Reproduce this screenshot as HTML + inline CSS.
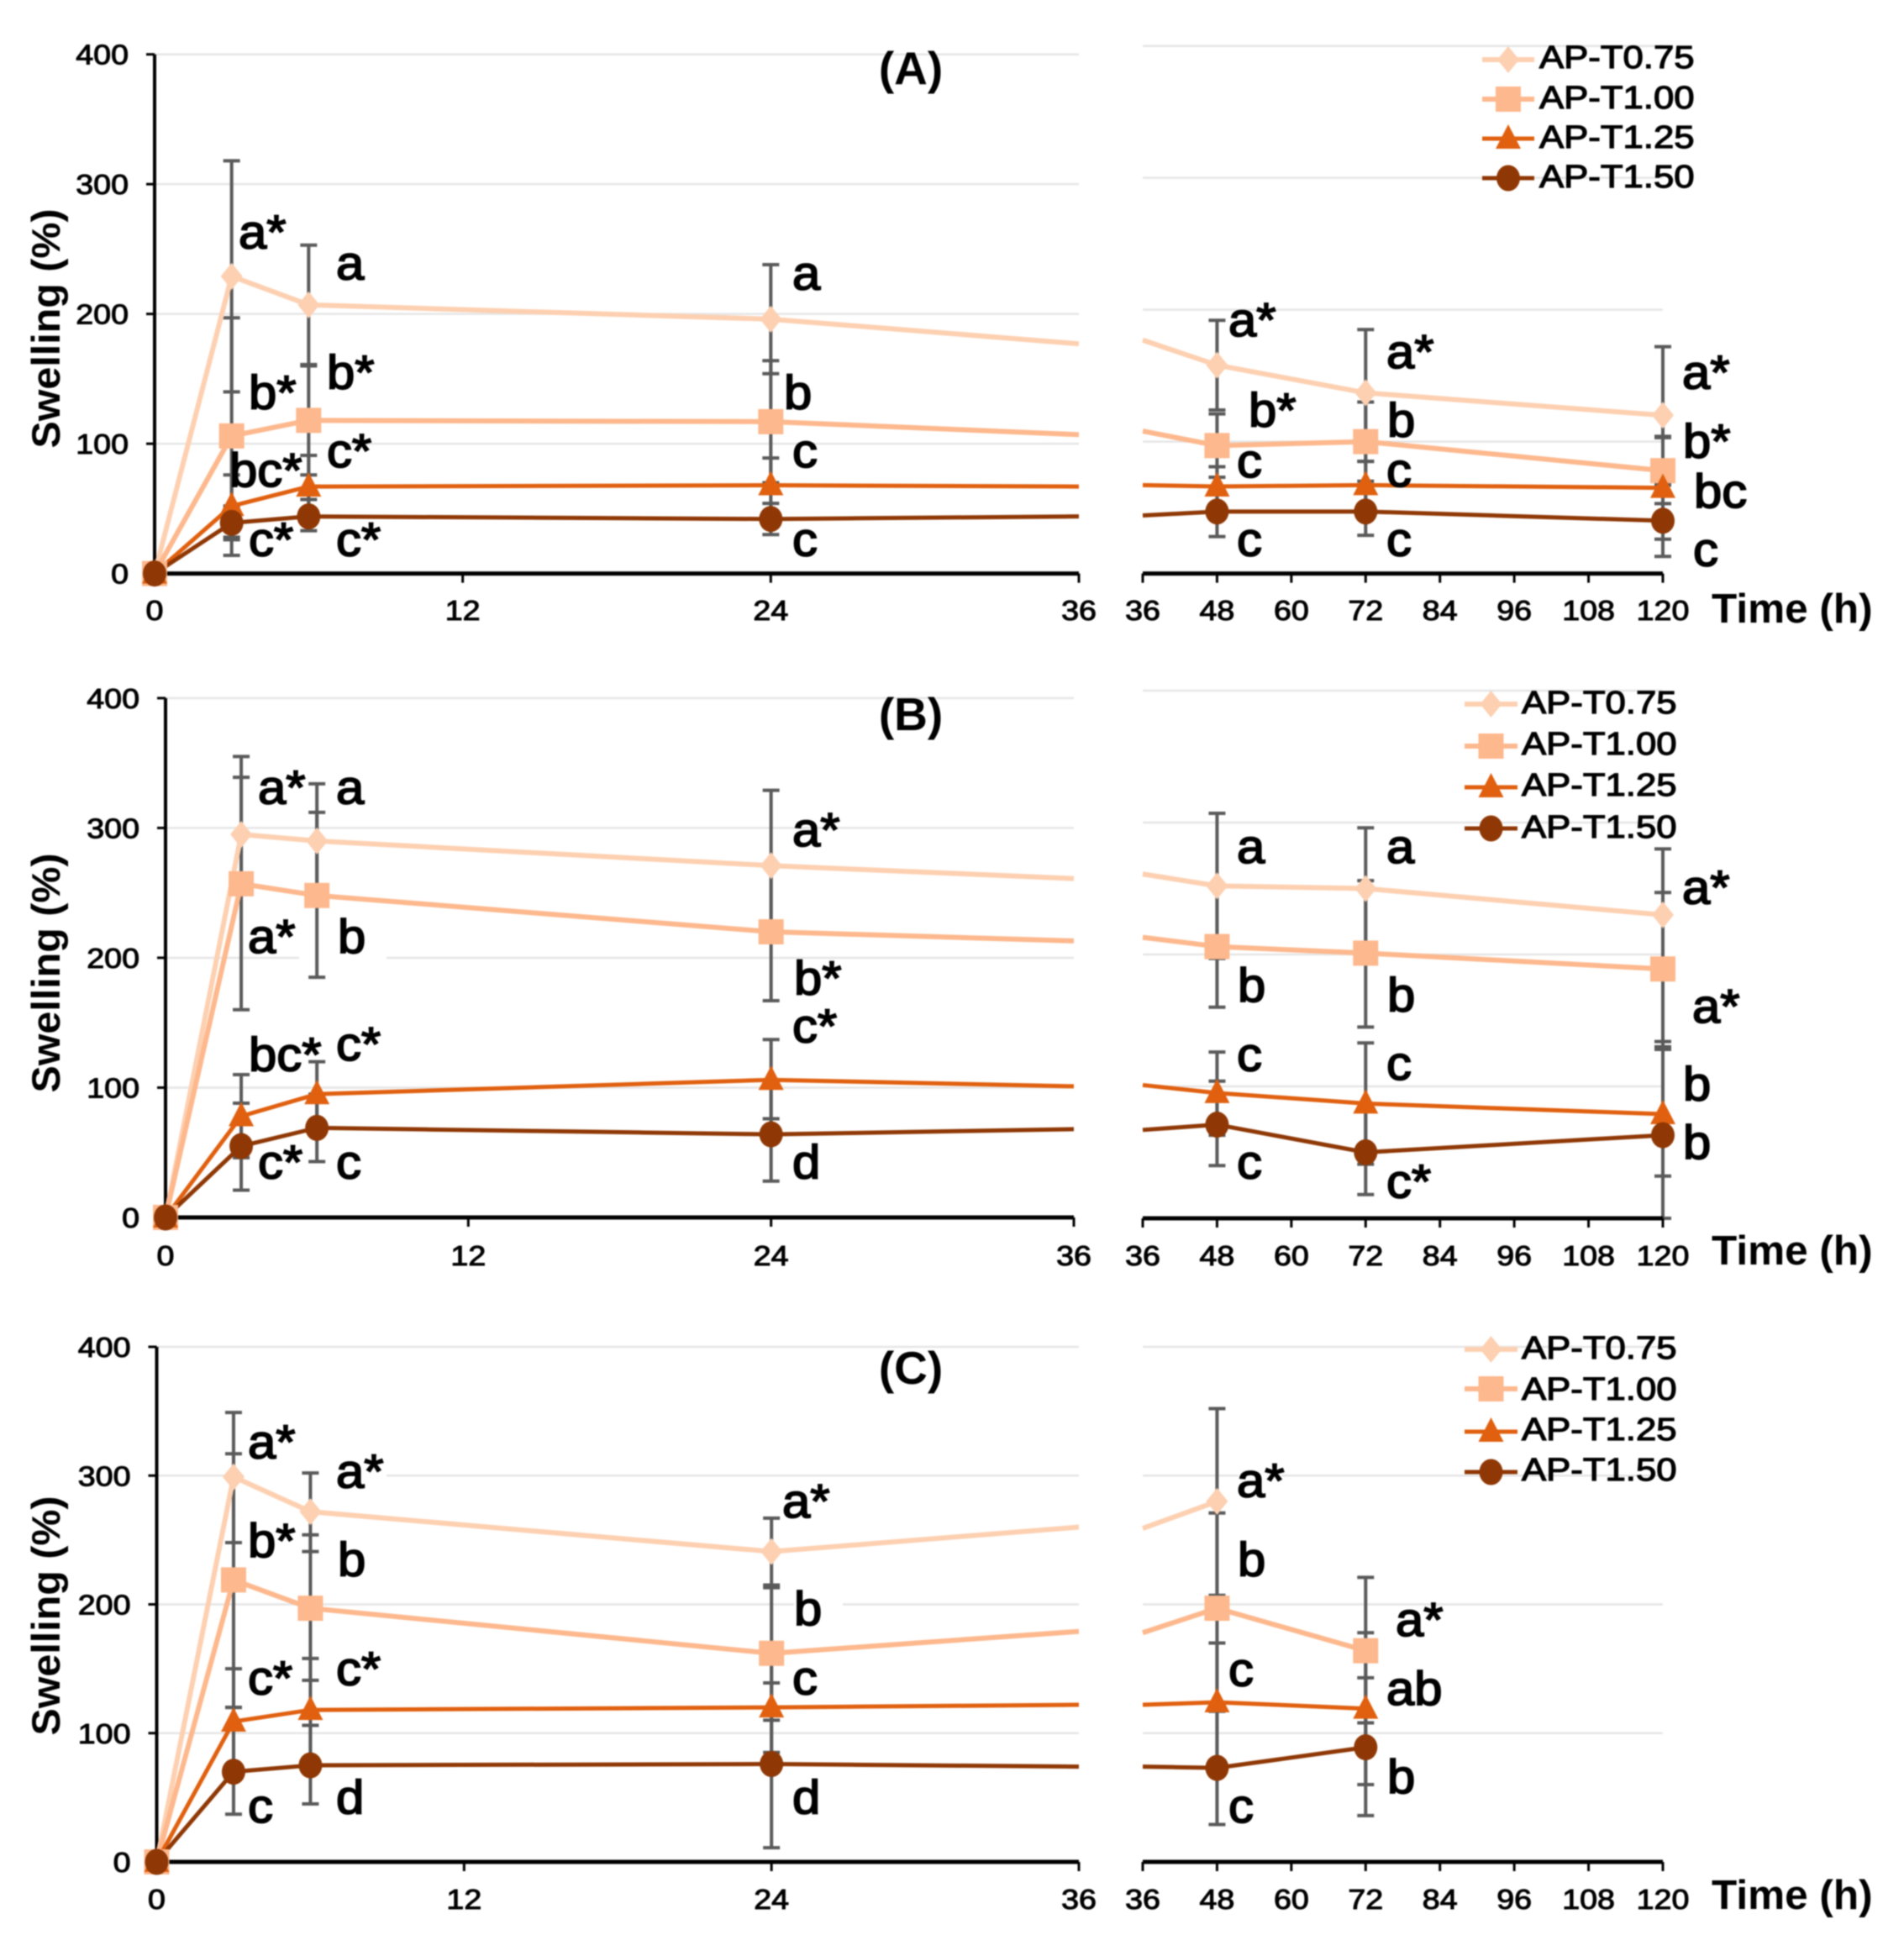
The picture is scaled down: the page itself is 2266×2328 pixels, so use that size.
<!DOCTYPE html>
<html lang="en">
<head>
<meta charset="utf-8">
<title>Swelling over time</title>
<style>
html,body{margin:0;padding:0;background:#fff;}
#figure{display:block;width:2266px;height:2328px;filter:blur(0.8px);font-family:"Liberation Sans",Arial,sans-serif;}
</style>
</head>
<body>
<svg id="figure" xmlns="http://www.w3.org/2000/svg" width="2266" height="2328" viewBox="0 0 2266 2328"></svg>
<script>
const leftHours=[0,3,6,24,36];
const rightHours=[36,48,72,120];
const yTickValues=[0,100,200,300,400];
const leftTickHours=[0,12,24,36];
const rightTickHours=[36,48,60,72,84,96,108,120];
const seriesNames=['AP-T0.75','AP-T1.00','AP-T1.25','AP-T1.50'];

const aLeft075=[0,229,207,196,177];
const aLeft100=[0,106,118,117,107];
const aLeft125=[0,52,67,68,67];
const aLeft150=[0,39,44,42,44];
const aLeftHi075=[null,318,253,238,null];
const aLeftLo075=[null,140,161,154,null];
const aLeftHi100=[null,197,160,164,null];
const aLeftLo100=[null,14,76,70,null];
const aLeftHi125=[null,76,91,89,null];
const aLeftLo125=[null,28,43,47,null];
const aLeftHi150=[null,52,57,54,null];
const aLeftLo150=[null,26,33,30,null];
const aRight075=[177,158,137,120];
const aRight100=[108,97,100,78];
const aRight125=[67,66,67,65];
const aRight150=[44,47,47,40];
const aRightHi075=[null,192,185,172];
const aRightLo075=[null,124,85,68];
const aRightHi100=[null,121,130,103];
const aRightLo100=[null,73,70,53];
const aRightHi125=[null,81,85,104];
const aRightLo125=[null,51,50,26];
const aRightHi150=[null,66,65,67];
const aRightLo150=[null,28,29,13];

const bLeft075=[0,295,290,271,261];
const bLeft100=[0,257,248,220,213];
const bLeft125=[0,78,95,106,101];
const bLeft150=[0,55,69,64,68];
const bLeftHi075=[null,339,334,329,null];
const bLeftLo075=[null,251,246,213,null];
const bLeftHi100=[null,355,312,272,null];
const bLeftLo100=[null,160,185,167,null];
const bLeftHi125=[null,110,120,137,null];
const bLeftLo125=[null,46,70,76,null];
const bLeftHi150=[null,88,95,100,null];
const bLeftLo150=[null,21,43,28,null];
const bRight075=[261,252,250,230];
const bRight100=[213,206,201,189];
const bRight125=[101,95,87,79];
const bRight150=[67,71,50,63];
const bRightHi075=[null,307,296,280];
const bRightLo075=[null,197,204,181];
const bRightHi100=[null,251,256,247];
const bRightLo100=[null,160,145,130];
const bRightHi125=[null,126,133,128];
const bRightLo125=[null,63,41,32];
const bRightHi150=[null,104,84,134];
const bRightLo150=[null,40,18,0];

const cLeft075=[0,299,272,241,260];
const cLeft100=[0,219,197,162,179];
const cLeft125=[0,109,118,120,122];
const cLeft150=[0,70,75,76,74];
const cLeftHi075=[null,349,302,267,null];
const cLeftLo075=[null,248,241,215,null];
const cLeftHi100=[null,317,254,213,null];
const cLeftLo100=[null,120,141,110,null];
const cLeftHi125=[null,150,158,155,null];
const cLeftLo125=[null,70,78,85,null];
const cLeftHi150=[null,120,106,139,null];
const cLeftLo150=[null,37,45,11,null];
const cRight075=[259,280,null,null];
const cRight100=[178,197,164,null];
const cRight125=[122,124,119,null];
const cRight150=[74,73,89,null];
const cRightHi075=[null,352,null,null];
const cRightLo075=[null,207,null,null];
const cRightHi100=[null,271,221,null];
const cRightLo100=[null,123,108,null];
const cRightHi125=[null,170,178,null];
const cRightLo125=[null,78,60,null];
const cRightHi150=[null,117,143,null];
const cRightLo150=[null,29,36,null];

const NS='http://www.w3.org/2000/svg';
const root=document.getElementById('figure');
const colors=['#fdd0b1','#fdb88d','#e0600f','#8f3805'];
const lineWidths=[6,6,5,5];
const keys=['t075','t100','t125','t150'];

function make(tag,attrs,parent){
  const el=document.createElementNS(NS,tag);
  for(const k in attrs){el.setAttribute(k,attrs[k]);}
  (parent||root).appendChild(el);
  return el;
}
function label(parent,x,y,str,size,opts){
  const o=opts||{};
  const el=make('text',{
    transform:'translate('+x+' '+y+') scale('+(o.sx||1)+' 1)',
    'font-size':size,
    'font-weight':o.weight||'normal',
    'text-anchor':o.anchor||'start',
    fill:'#000',
    stroke:'#000',
    'stroke-width':o.stroke===undefined?1:o.stroke
  },parent);
  el.textContent=str;
  return el;
}
function drawMarker(parent,kind,x,y){
  let el;
  if(kind===0){el=make('polygon',{points:[[x,y-16],[x+13,y],[x,y+16],[x-13,y]].map(p=>p.join(',')).join(' '),fill:colors[0]},parent);}
  if(kind===1){el=make('rect',{x:x-15,y:y-15,width:30,height:30,fill:colors[1]},parent);}
  if(kind===2){el=make('polygon',{points:[[x,y-17],[x+15,y+12],[x-15,y+12]].map(p=>p.join(',')).join(' '),fill:colors[2]},parent);}
  if(kind===3){el=make('ellipse',{cx:x,cy:y,rx:14,ry:15.5,fill:colors[3]},parent);}
  return el;
}
function drawSegment(g,seg,hours,xTickHours,series,hi,lo){
  const sx=h=>seg.x0+(h-hours[0])/(hours[hours.length-1]-hours[0])*(seg.x1-seg.x0);
  const sy=v=>seg.y0-v/400*(seg.y0-seg.y400);

  yTickValues.forEach(v=>{
    if(v===0){return;}
    const grid=make('line',{x1:seg.x0,x2:seg.x1,y1:sy(v),y2:sy(v),stroke:'#e6e6e6','stroke-width':2.5},g);
    
    
  });
  (seg.gaps||[]).forEach(gap=>{
    const patch=make('rect',{x:gap[0],y:sy(gap[2])-3,width:gap[1]-gap[0],height:6,fill:'#fff'},g);
    
    
  });

  const bars=make('g',{},g);
  
  
  series.forEach((vals,s)=>{
    vals.forEach((v,i)=>{
      const h=hi[s][i], l=lo[s][i];
      if(h===null||l===null){return;}
      const x=sx(hours[i]);
      const bar=make('path',{d:'M'+x+' '+sy(h)+'V'+sy(l)+'M'+(x-10)+' '+sy(h)+'H'+(x+10)+'M'+(x-10)+' '+sy(l)+'H'+(x+10),stroke:'#5a5a5a','stroke-width':4,fill:'none'},bars);
      
      
    });
  });

  const axisX=make('line',{x1:seg.x0,x2:seg.x1,y1:seg.y0,y2:seg.y0,stroke:'#000','stroke-width':5},g);
  
  
  xTickHours.forEach(h=>{
    const x=sx(h);
    const tick=make('line',{x1:x,x2:x,y1:seg.y0,y2:seg.y0+11,stroke:'#000','stroke-width':3},g);
    
    
    const t=label(g,x,seg.labelY,String(h),33,{anchor:'middle',sx:1.14});
    
    
  });

  if(seg.hasYAxis){
    const axisY=make('line',{x1:seg.x0,x2:seg.x0,y1:sy(400),y2:seg.y0,stroke:'#000','stroke-width':4},g);
    
    
    yTickValues.forEach(v=>{
      const tick=make('line',{x1:seg.x0-10,x2:seg.x0,y1:sy(v),y2:sy(v),stroke:'#000','stroke-width':3},g);
      
      
      const t=label(g,seg.x0-31,sy(v)+12,String(v),33,{anchor:'end',sx:1.14});
      
      
    });
  }

  series.forEach((vals,s)=>{
    const pts=[];
    vals.forEach((v,i)=>{if(v!==null){pts.push(sx(hours[i])+','+sy(v));}});
    const line=make('polyline',{points:pts.join(' '),fill:'none',stroke:colors[s],'stroke-width':lineWidths[s],'stroke-linejoin':'round'},g);
    
    
  });
  series.forEach((vals,s)=>{
    vals.forEach((v,i)=>{
      if(v===null||hours[i]===36){return;}
      const m=drawMarker(g,s,sx(hours[i]),sy(v));
      
      
    });
  });
}
function drawLegend(parent,xLine0,xLine1,xText,rowYs,baseYs){
  const g=make('g',{},parent);
  
  
  seriesNames.forEach((name,s)=>{
    const line=make('line',{x1:xLine0,x2:xLine1,y1:rowYs[s],y2:rowYs[s],stroke:colors[s],'stroke-width':lineWidths[s]},g);
    
    
    const m=drawMarker(g,s,(xLine0+xLine1)/2,rowYs[s]);
    
    
    const t=label(g,xText,baseYs[s],name,38,{sx:1.15,stroke:1.2});
    
    
  });
}
function notes(parent,y0,k,list){
  const g=make('g',{},parent);
  
  
  list.forEach(n=>{
    const t=label(g,n[0]-2,y0+(n[1]-y0)*k,n[2],57,{sx:1.05,stroke:1.8});
    
    
  });
}
function panelFurniture(g,title,titleY,ySwelling,timeY){
  const t=label(g,1084,titleY,title,55,{weight:'bold',anchor:'middle',stroke:0});
  
  
  const yt=make('text',{transform:'translate(71 '+ySwelling+') rotate(-90)','font-size':47,'font-weight':'bold','text-anchor':'middle',fill:'#000',textLength:285,lengthAdjust:'spacingAndGlyphs'},g);
  yt.textContent='Swelling (%)';
  
  
  const xt=label(g,2037,timeY,'Time (h)',49.5,{weight:'bold',stroke:0});
  
  
}

/* Panel A */
const gA=make('g',{});


drawSegment(gA,{x0:184,x1:1284,y0:682.6,y400:64.7,labelY:738,hasYAxis:true},leftHours,leftTickHours,
  [aLeft075,aLeft100,aLeft125,aLeft150],[aLeftHi075,aLeftHi100,aLeftHi125,aLeftHi150],[aLeftLo075,aLeftLo100,aLeftLo125,aLeftLo150]);
drawSegment(gA,{x0:1360,x1:1979,y0:682.6,y400:54.7,labelY:738,hasYAxis:false},rightHours,rightTickHours,
  [aRight075,aRight100,aRight125,aRight150],[aRightHi075,aRightHi100,aRightHi125,aRightHi150],[aRightLo075,aRightLo100,aRightLo125,aRightLo150]);
panelFurniture(gA,'(A)',100,391,741);
drawLegend(gA,1764,1826,1832,[71,118,165,212],[81,129,176,223]);
notes(gA,0,0.995,[[286,297,'a*'],[402,334,'a'],[298,489,'b*'],[391,465,'b*'],[275,582,'bc*'],[391,559,'c*'],[298,665,'c*'],[402,665,'c*'],
  [945,346,'a'],[935,489,'b'],[945,559,'c'],[945,665,'c'],
  [1464,402,'a*'],[1488,510,'b*'],[1474,571,'c'],[1474,665,'c'],
  [1652,440,'a*'],[1653,522,'b'],[1652,582,'c'],[1652,665,'c'],
  [2004,465,'a*'],[2005,547,'b*'],[2018,607,'bc'],[2017,677,'c']]);

/* Panel B */
const gB=make('g',{});


drawSegment(gB,{x0:197,x1:1278,y0:1449,y400:830.9,labelY:1506,hasYAxis:true,gaps:[[356,460,200]]},leftHours,leftTickHours,
  [bLeft075,bLeft100,bLeft125,bLeft150],[bLeftHi075,bLeftHi100,bLeftHi125,bLeftHi150],[bLeftLo075,bLeftLo100,bLeftLo125,bLeftLo150]);
drawSegment(gB,{x0:1360,x1:1979,y0:1450,y400:822,labelY:1506,hasYAxis:false},rightHours,rightTickHours,
  [bRight075,bRight100,bRight125,bRight150],[bRightHi075,bRightHi100,bRightHi125,bRightHi150],[bRightLo075,bRightLo100,bRightLo125,bRightLo150]);
panelFurniture(gB,'(B)',869,1158,1505);
drawLegend(gB,1743,1806,1811,[838,888,937,986],[849,898,947,997]);
notes(gB,780,0.9695,[[309,962,'a*'],[402,962,'a'],[297,1145,'a*'],[404,1145,'b'],[298,1290,'bc*'],[402,1277,'c*'],[309,1422,'c*'],[402,1422,'c'],
  [945,1014,'a*'],[947,1196,'b*'],[945,1255,'c*'],[945,1422,'d'],
  [1474,1035,'a'],[1475,1205,'b'],[1474,1290,'c'],[1474,1422,'c'],
  [1652,1035,'a'],[1653,1217,'b'],[1652,1301,'c'],[1652,1446,'c*'],
  [2004,1085,'a*'],[2016,1231,'a*'],[2005,1326,'b'],[2005,1398,'b']]);

/* Panel C */
const gC=make('g',{});


drawSegment(gC,{x0:186.5,x1:1284,y0:2216,y400:1603,labelY:2272,hasYAxis:true,gaps:[[290,460,300],[945,1003,200]]},leftHours,leftTickHours,
  [cLeft075,cLeft100,cLeft125,cLeft150],[cLeftHi075,cLeftHi100,cLeftHi125,cLeftHi150],[cLeftLo075,cLeftLo100,cLeftLo125,cLeftLo150]);
drawSegment(gC,{x0:1360,x1:1979,y0:2216,y400:1603,labelY:2272,hasYAxis:false,gaps:[[1474,1525,300]]},rightHours,rightTickHours,
  [cRight075,cRight100,cRight125,cRight150],[cRightHi075,cRightHi100,cRightHi125,cRightHi150],[cRightLo075,cRightLo100,cRightLo125,cRightLo150]);
panelFurniture(gC,'(C)',1647,1923,2272);
drawLegend(gC,1743,1806,1811,[1606,1653,1704,1752],[1617,1666,1714,1762]);
notes(gC,1560,0.9794,[[297,1739,'a*'],[402,1775,'a*'],[297,1859,'b*'],[404,1882,'b'],[297,2026,'c*'],[402,2015,'c*'],[297,2182,'c'],[402,2171,'d'],
  [933,1811,'a*'],[947,1942,'b'],[945,2026,'c'],[945,2171,'d'],
  [1474,1786,'a*'],[1475,1882,'b'],[1464,2016,'c'],[1464,2182,'c'],
  [1663,1955,'a*'],[1652,2039,'ab'],[1653,2146,'b']]);
</script>
</body>
</html>
